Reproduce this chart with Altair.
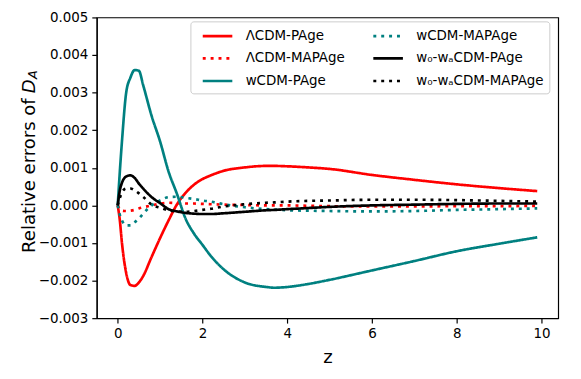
import altair as alt
import pandas as pd

z = [0, 0.05, 0.1, 0.2, 0.3, 0.4, 0.5, 0.6, 0.8, 1.0, 1.2, 1.4, 1.6, 1.8, 2.0,
     2.2, 2.5, 3.0, 3.5, 3.7, 4.0, 4.5, 5.0, 6.0, 7.0, 8.0, 9.0, 9.9]

lcdm_page = [0, -0.0004, -0.001, -0.0018, -0.00212, -0.00214, -0.00205, -0.00188,
             -0.00137, -0.00087, -0.0004, 0.00003, 0.00033, 0.00055, 0.0007, 0.0008,
             0.00092, 0.00101, 0.00105, 0.00105, 0.00104, 0.00101, 0.00097, 0.00081,
             0.00068, 0.00056, 0.00046, 0.00038]
lcdm_mapage = [0, -0.0001, -0.00014, -0.00015, -0.00014, -0.00012, -0.00008, -0.00005,
               0.0, 0.00005, 0.00007, 0.00006, 0.00005, 0.00005, 0.00004, 0.00003,
               0.00002, 0.00001, 0, 0, 0, -0.00001, -0.00002, -0.00003, -0.00003,
               -0.00002, -0.00002, -0.00001]
wcdm_page = [0, 0.0009, 0.0017, 0.0030, 0.0034, 0.0036, 0.00358, 0.0032, 0.00238,
             0.0017, 0.0009, 0.0003, -0.00035, -0.00075, -0.00105, -0.00135, -0.0017,
             -0.00205, -0.00217, -0.00219, -0.00217, -0.00209, -0.00198, -0.00173,
             -0.00148, -0.00122, -0.00102, -0.00085]
wcdm_mapage = [0, -0.00025, -0.0004, -0.00053, -0.00053, -0.00045, -0.00035, -0.00022,
               0, 0.00013, 0.00022, 0.00023, 0.0002, 0.00017, 0.00013, 0.0001, 0.00003,
               -0.00005, -0.0001, -0.00011, -0.00013, -0.00014, -0.00015, -0.00016,
               -0.00015, -0.00012, -0.0001, -0.00008]
w0wa_page = [0, 0.0004, 0.0006, 0.00077, 0.0008, 0.00073, 0.00058, 0.00045, 0.00022,
             0.00006, -0.0001, -0.00016, -0.0002, -0.00022, -0.00023, -0.00023, -0.00021,
             -0.00017, -0.00013, -0.00012, -0.0001, -0.00007, -0.00004, 0, 0.00002,
             0.00004, 0.00005, 0.00005]
w0wa_mapage = [0, 0.0002, 0.00035, 0.00045, 0.00045, 0.0004, 0.00032, 0.00023, 0.00002,
               -0.00006, -0.00013, -0.00016, -0.00017, -0.00015, -0.00012, -0.00009,
               -0.00003, 0.00003, 0.00007, 0.00008, 0.0001, 0.00012, 0.00013, 0.00015,
               0.00015, 0.00014, 0.00012, 0.0001]

names = ["ΛCDM-PAge", "ΛCDM-MAPAge", "wCDM-PAge", "wCDM-MAPAge",
         "w₀-wₐCDM-PAge", "w₀-wₐCDM-MAPAge"]
series = [lcdm_page, lcdm_mapage, wcdm_page, wcdm_mapage, w0wa_page, w0wa_mapage]
colors = ["#ff0000", "#ff0000", "#008080", "#008080", "#000000", "#000000"]
dashes = [[1, 0], [3, 5], [1, 0], [3, 5], [1, 0], [3, 5]]

rows = []
for n, vals in zip(names, series):
    for zz, v in zip(z, vals):
        rows.append({"z": zz, "err": v, "series": n})
df = pd.DataFrame(rows)

legend = alt.Legend(
    title=None, orient="none", legendX=95, legendY=4, columns=2,
    symbolType="M-1.875,0H1.875", symbolSize=256, symbolStrokeWidth=2.7,
    symbolOffset=13, labelOffset=19, labelFontSize=13.6, labelFont="DejaVu Sans",
    labelColor="#000000", columnPadding=21, rowPadding=6, padding=5,
    strokeColor="#cccccc", fillColor="#ffffff", cornerRadius=3,
)

lines = alt.Chart(df).mark_line(strokeWidth=2.7, interpolate="monotone").encode(
    x=alt.X("z:Q", scale=alt.Scale(domain=[-0.495, 10.395], nice=False, zero=False),
            axis=alt.Axis(values=[0, 2, 4, 6, 8, 10], title="z", format="d")),
    y=alt.Y("err:Q", scale=alt.Scale(domain=[-0.003, 0.005], nice=False, zero=False),
            axis=alt.Axis(values=[-0.003, -0.002, -0.001, 0, 0.001, 0.002, 0.003, 0.004, 0.005],
                          format=".3f", title=None)),
    color=alt.Color("series:N", scale=alt.Scale(domain=names, range=colors), legend=legend),
    strokeDash=alt.StrokeDash("series:N", scale=alt.Scale(domain=names, range=dashes), legend=legend),
)

one = pd.DataFrame({"k": [0]})
t_main = alt.Chart(one).mark_text(text="Relative errors of", angle=270, align="right",
                                  baseline="alphabetic", fontSize=18.3, font="DejaVu Sans",
                                  color="black").encode(x=alt.value(-62.5), y=alt.value(82))
t_d = alt.Chart(one).mark_text(text="D", angle=270, align="left", baseline="alphabetic",
                               fontSize=18.3, font="DejaVu Sans", fontStyle="italic",
                               color="black").encode(x=alt.value(-62.5), y=alt.value(77))
t_a = alt.Chart(one).mark_text(text="A", angle=270, align="left", baseline="alphabetic",
                               fontSize=13, font="DejaVu Sans", fontStyle="italic",
                               color="black").encode(x=alt.value(-61), y=alt.value(62.5))

chart = alt.layer(lines, t_main, t_d, t_a).properties(
    width=468, height=305,
    padding={"left": 90, "top": 7, "right": 15, "bottom": 50},
    autosize=alt.AutoSizeParams(type="none"),
).configure(font="DejaVu Sans").configure_view(
    stroke="black", strokeWidth=1.2
).configure_axis(
    grid=False, domainColor="black", domainWidth=1.2, tickColor="black", tickWidth=1.2,
    tickSize=5, labelFontSize=13.6, labelColor="black", labelPadding=4,
    titleFontSize=18.3, titleFontWeight="normal", titleColor="black", titlePadding=8,
    labelFont="DejaVu Sans", titleFont="DejaVu Sans",
)

chart.save("out.html", embed_options={"renderer": "svg", "actions": False})
